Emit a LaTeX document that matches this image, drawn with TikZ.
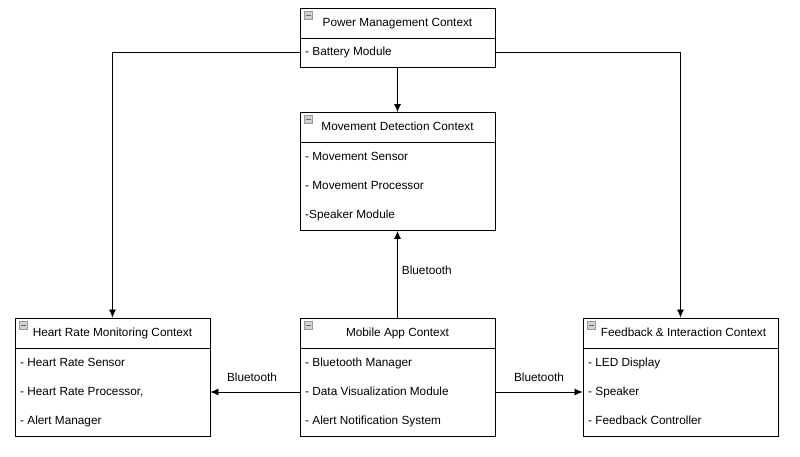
\documentclass[tikz,border=0pt]{standalone}
\usepackage{fontspec}
\setmainfont{Liberation Sans}
\usepackage{xcolor}
\usepackage{tikz}
\usetikzlibrary{arrows.meta,calc}

\newcommand{\boxicon}[1]{%
  \filldraw[fill=gray!35,draw=gray!80,line width=0.6pt] ($(#1.north west)+(5,3.5)$) rectangle +(8,8);
  \draw[gray!80!black,line width=0.9pt] ($(#1.north west)+(6.5,7.5)$) -- +(5,0);
}

\begin{document}
\begin{tikzpicture}[x=1pt,y=-1pt,
    every node/.style={font=\fontsize{11.8}{13}\selectfont,text height=8.6pt,text depth=2.4pt},
    head/.style={draw,line width=0.9pt,minimum width=195pt,minimum height=30pt,inner sep=0pt},
    body/.style={draw,line width=0.9pt,minimum width=195pt,inner sep=0pt},
    item/.style={anchor=west,inner sep=0pt},
    arr/.style={line width=0.8pt,-{Latex[length=8pt,width=7pt]}},
    lbl/.style={inner sep=1pt}]
		\useasboundingbox (0,0) rectangle (800,456);

		% power management
		\node[head] (pwrH) at (397.5,23) {Power Management Context};
		\node[body,minimum height=29pt] (pwrB) at (397.5,52.5) {};
		\node[item] (pwr1) at (305,52) {- Battery Module};
		\boxicon{pwrH}

		% movement detection
		\node[head] (mvH) at (397.5,127.5) {Movement Detection Context};
		\node[body,minimum height=88pt] (mvB) at (397.5,186.5) {};
		\node[item] (mv1) at (305,157) {- Movement Sensor};
		\node[item] (mv2) at (305,186) {- Movement Processor};
		\node[item] (mv3) at (305,215) {-Speaker Module};
		\boxicon{mvH}

		% heart rate
		\node[head] (hrH) at (112.5,333) {Heart Rate Monitoring Context};
		\node[body,minimum height=88pt] (hrB) at (112.5,392) {};
		\node[item] (hr1) at (20,363) {- Heart Rate Sensor};
		\node[item] (hr2) at (20,392) {- Heart Rate Processor,};
		\node[item] (hr3) at (20,421) {- Alert Manager};
		\boxicon{hrH}

		% mobile app
		\node[head] (maH) at (397.5,333) {Mobile App Context};
		\node[body,minimum height=88pt] (maB) at (397.5,392) {};
		\node[item] (ma1) at (305,363) {- Bluetooth Manager};
		\node[item] (ma2) at (305,392) {- Data Visualization Module};
		\node[item] (ma3) at (305,421) {- Alert Notification System};
		\boxicon{maH}

		% feedback
		\node[head] (fbH) at (680.5,333) {\hspace{6pt}Feedback \& Interaction Context};
		\node[body,minimum height=88pt] (fbB) at (680.5,392) {};
		\node[item] (fb1) at (588,363) {- LED Display};
		\node[item] (fb2) at (588,392) {- Speaker};
		\node[item] (fb3) at (588,421) {- Feedback Controller};
		\boxicon{fbH}

		% connectors
		\draw[arr] (pwrB.west) -| (hrH.north);
		\draw[arr] (pwrB.east) -| (fbH.north);
		\draw[arr] (pwrB.south) -- (mvH.north);
		\draw[arr] (maH.north) -- node[lbl,right=3pt,yshift=3pt] (btUp) {Bluetooth} (mvB.south);
		\draw[arr] (maB.west) -- node[lbl,above=7pt,xshift=-3pt] (btLeft) {Bluetooth} (hrB.east);
		\draw[arr] (maB.east) -- node[lbl,above=7pt] (btRight) {Bluetooth} (fbB.west);
\end{tikzpicture}
\end{document}
